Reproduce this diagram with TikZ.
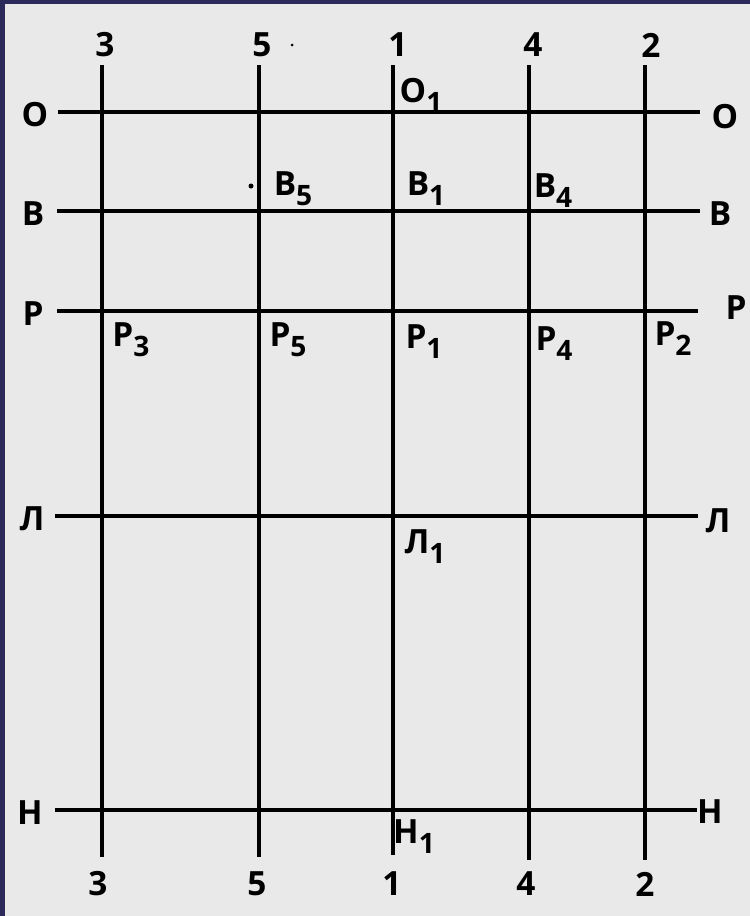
\documentclass[tikz,border=0pt]{standalone}
\usepackage{fontspec}
\setmainfont{Open Sans}
\definecolor{navy}{HTML}{2B2A5A}
\definecolor{paper}{HTML}{E9E9E9}
\newcommand\idx[1]{\raisebox{-0.55ex}{\fontsize{16}{16}\selectfont #1}}
\begin{document}
\begin{tikzpicture}[x=0.02cm,y=-0.02cm,
    lbl/.style={font=\bfseries\fontsize{19}{19}\selectfont, inner sep=0pt},
    gridline/.style={line width=2pt}]
    % фон
    \fill[navy] (0,0) rectangle (750,916);
    \fill[paper] (5,4) rectangle (750,916);

    % вертикальные оси
    \foreach \n/\x/\b/\tx/\bx in {3/102/857/105/98, 5/259/857/262/257, 1/393/855/398/392, 4/529/860/533/526, 2/645/860/651/645} {
        \coordinate (v\n t) at (\x,65);
        \coordinate (v\n b) at (\x,\b);
        \draw[gridline] (v\n t) -- (v\n b);
        \node[lbl] (top\n) at (\tx,45) {\n};
        \node[lbl] (bot\n) at (\bx,884) {\n};
    }

    % горизонтальные линии
    \foreach \h/\y/\a/\b/\lx/\rx/\ry/\t in {o/112/58/700/35/725/117/О, v/211/57/700/33/720/214/В, r/311/57/698/33/736/308/Р, l/516/55/698/32/718/521/Л, n/810/55/697/30/710/812/Н} {
        \coordinate (\h l) at (\a,\y);
        \coordinate (\h r) at (\b,\y);
        \draw[gridline] (\h l) -- (\h r);
        \node[lbl] (\h L) at (\lx,\y+3) {\t};
        \node[lbl] (\h R) at (\rx,\ry) {\t};
    }

    % точки пересечения
    \node[lbl] (o1) at (421,95) {О\idx{1}};
    \node[lbl] (v5) at (293,189) {В\idx{5}};
    \node[lbl] (v1) at (426,189) {В\idx{1}};
    \node[lbl] (v4) at (553,191) {В\idx{4}};
    \node[lbl] (r3) at (131,340) {Р\idx{3}};
    \node[lbl] (r5) at (288,340) {Р\idx{5}};
    \node[lbl] (r1) at (424,342) {Р\idx{1}};
    \node[lbl] (r4) at (554,344) {Р\idx{4}};
    \node[lbl] (r2) at (673,339) {Р\idx{2}};
    \node[lbl] (l1) at (425,547) {Л\idx{1}};
    \node[lbl] (n1) at (414,837) {Н\idx{1}};

    % точки
    \fill (251,186) circle (2.5);
    \fill (292,45) circle (1.5);
\end{tikzpicture}
\end{document}
